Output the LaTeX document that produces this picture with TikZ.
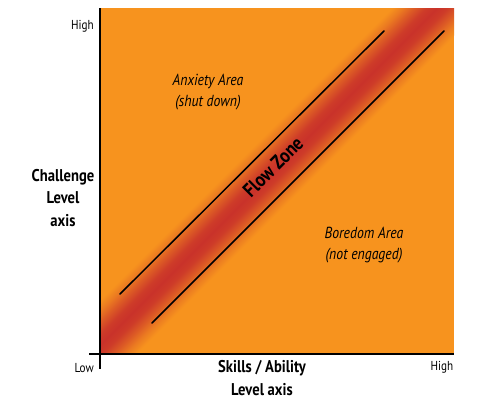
\documentclass[tikz,border=0pt]{standalone}
\usepackage{fontspec}
\setmainfont{PT Sans}[FakeStretch=0.86]
\definecolor{flowor}{RGB}{247,147,30}
\definecolor{flowred}{RGB}{201,50,42}
\pgfdeclareverticalshading{flowband}{100bp}{color(0bp)=(flowor); color(25bp)=(flowor); color(31bp)=(flowred!25!flowor); color(38bp)=(flowred!62!flowor); color(44bp)=(flowred!90!flowor); color(50bp)=(flowred); color(56bp)=(flowred!90!flowor); color(62bp)=(flowred!62!flowor); color(69bp)=(flowred!25!flowor); color(75bp)=(flowor); color(100bp)=(flowor)}
\tikzset{
  axisline/.style={line width=1.6pt, black},
  zoneline/.style={line width=1.5pt, black, line cap=round},
  ticklabel/.style={font=\fontsize{13}{15}\selectfont, inner sep=0pt},
  arealabel/.style={font=\itshape\fontsize{16}{21.5}\selectfont, align=center, inner sep=0pt},
  axislabel/.style={font=\bfseries\fontsize{17}{22.5}\selectfont, align=center, inner sep=0pt},
  zonelabel/.style={font=\bfseries\fontsize{20}{22}\selectfont, inner sep=0pt, rotate=45},
}
\begin{document}
\begin{tikzpicture}[x=1pt,y=-1pt]
\useasboundingbox (0,0) rectangle (500,397);
% field
\begin{scope}
  \clip (100,8) rectangle (454,354);
  \fill[flowor] (100,8) rectangle (454,354);
  \begin{scope}[transform canvas={shift={(277,168)},rotate=45}]
    \shade[shading=flowband] (-400,-32) rectangle (400,32);
  \end{scope}
\end{scope}
% axes
\coordinate (ytop) at (100,8);
\coordinate (ybot) at (100,369);
\coordinate (xleft) at (89,354);
\coordinate (xright) at (454,354);
\draw[axisline] (ytop) -- (ybot);
\draw[axisline] (xleft) -- (xright);
% zone boundary lines
\coordinate (ua) at (120,294);
\coordinate (ub) at (384,31);
\coordinate (la) at (152,323);
\coordinate (lb) at (444,31);
\draw[zoneline] (ua) -- (ub);
\draw[zoneline] (la) -- (lb);
% labels
\node[ticklabel, anchor=east] (yhigh) at (94,26) {High};
\node[ticklabel, anchor=east] (xlow) at (94,368) {Low};
\node[ticklabel] (xhigh) at (442,367) {High};
\node[arealabel] (anx) at (208,92) {Anxiety Area\\(shut down)};
\node[arealabel] (bor) at (364,245) {Boredom Area\\(not engaged)};
\node[axislabel] (chal) at (63,198) {Challenge\\Level\\axis};
\node[axislabel] (skill) at (262,378) {Skills / Ability\\Level axis};
\node[zonelabel] (flow) at (273,167) {Flow Zone};
\end{tikzpicture}
\end{document}
